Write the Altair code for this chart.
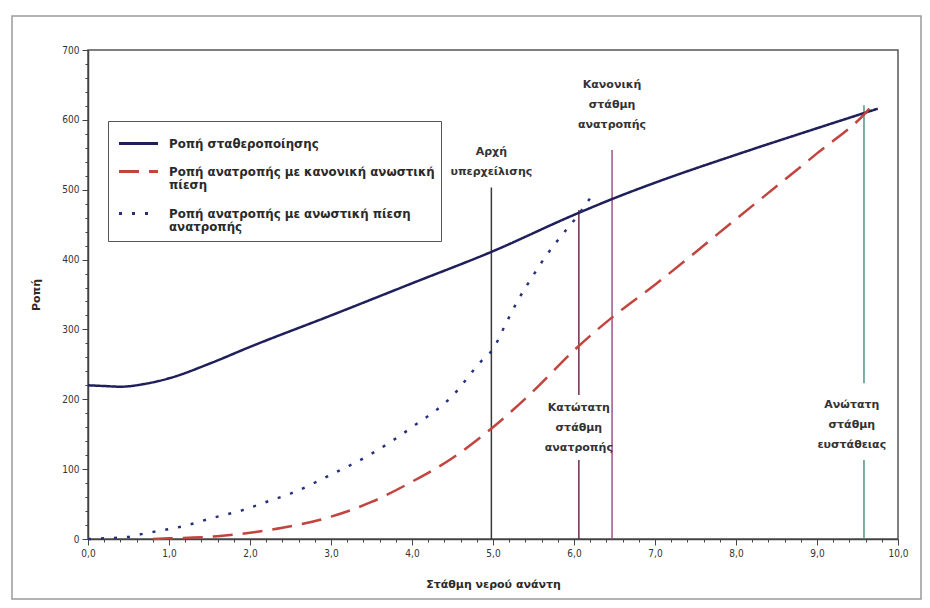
import json
import altair as alt
import pandas as pd

# ---------------- data ----------------
series_names = [
    "Ροπή σταθεροποίησης",
    "Ροπή ανατροπής με κανονική ανωστική πίεση",
    "Ροπή ανατροπής με ανωστική πίεση ανατροπής",
]
legend_lines = [
    ["Ροπή σταθεροποίησης"],
    ["Ροπή ανατροπής με κανονική ανωστική", "πίεση"],
    ["Ροπή ανατροπής με ανωστική πίεση", "ανατροπής"],
]

x_stab = [0.0, 0.2, 0.4, 0.7, 1.0, 1.5, 2.0, 3.0, 4.0, 5.0, 6.0, 6.5, 7.0, 8.0, 9.0, 9.75]
y_stab = [220, 219, 218, 222, 230, 251, 275, 320, 366, 412, 464, 488, 510, 550, 588, 616]

x_norm = [0.8, 1.0, 1.3, 1.6, 2.0, 2.4, 3.0, 3.5, 4.0, 4.5, 5.0, 5.5, 6.0, 6.5, 7.0, 8.0, 9.0, 9.6, 9.72]
y_norm = [0, 1, 2, 4, 9, 16, 32, 53, 82, 116, 160, 212, 270, 320, 364, 458, 552, 610, 626]

x_ovt = [0.0, 0.2, 0.5, 0.7, 0.9, 1.2, 1.5, 1.9, 2.2, 2.5, 3.0, 3.5, 4.0, 4.5, 4.85, 5.0,
         5.17, 5.3, 5.5, 5.6, 5.85, 6.0, 6.2]
y_ovt = [0, 1, 3, 8, 12, 19, 29, 41, 53, 65, 92, 122, 160, 205, 254, 272,
         311, 340, 378, 396, 435, 456, 488]

# vertical reference levels: x, top, (gap low, gap high) where a label covers the line
level_x = [4.98, 6.06, 6.47, 9.58]
level_top = [503, 471, 557, 621]
level_gap = [None, (113, 206), None, (113, 223)]
level_colors = ["#3a3a3a", "#6e2a48", "#a4508c", "#4f9484"]

# annotation labels (data coordinates of the first line's top)
label_x = [4.98, 6.06, 6.47, 9.43]
label_y = [562, 196, 658, 200]
label_text = [
    "Αρχή\nυπερχείλισης",
    "Κατώτατη\nστάθμη\nανατροπής",
    "Κανονική\nστάθμη\nανατροπής",
    "Ανώτατη\nστάθμη\nευστάθειας",
]

x_tick_values = [round(i * 0.2, 1) for i in range(51)]
y_tick_values = list(range(0, 701, 20))

# ---------------- tables ----------------
rows = []
for name, xs, ys in zip(series_names, [x_stab, x_norm, x_ovt], [y_stab, y_norm, y_ovt]):
    for i, (a, b) in enumerate(zip(xs, ys)):
        rows.append({"series": name, "x": a, "y": b, "order": i})
df = pd.DataFrame(rows)

rule_rows = []
for lx, top, gap, col in zip(level_x, level_top, level_gap, level_colors):
    if gap is None:
        rule_rows.append({"x": lx, "y": 0, "y2": top, "c": col})
    else:
        rule_rows.append({"x": lx, "y": 0, "y2": gap[0], "c": col})
        rule_rows.append({"x": lx, "y": gap[1], "y2": top, "c": col})
df_rules = pd.DataFrame(rule_rows)

df_text = pd.DataFrame({"x": label_x, "y": label_y, "t": label_text})

FONT = "DejaVu Sans"
AXFONT = "DejaVu Sans Condensed, DejaVu Sans, sans-serif"

label_map = {n: l for n, l in zip(series_names, legend_lines)}
legend_label_expr = " : ".join(
    [f"datum.label == {json.dumps(n, ensure_ascii=False)} ? {json.dumps(l, ensure_ascii=False)}"
     for n, l in label_map.items()] + ["datum.label"]
)

legend = alt.Legend(
    title=None,
    orient="none",
    legendX=20,
    legendY=71,
    direction="vertical",
    fillColor="white",
    strokeColor="#555555",
    padding=6,
    rowPadding=4,
    symbolType="M -1.3 0 H 1.3",
    symbolSize=900,
    symbolStrokeWidth=3,
    symbolOffset=8,
    labelFont=FONT,
    labelFontSize=11.8,
    labelFontWeight="bold",
    labelColor="#2a2a2a",
    labelLimit=400,
    labelOffset=14,
    labelExpr=legend_label_expr,
)

x_scale = alt.Scale(domain=[0, 10], nice=False, zero=False)
y_scale = alt.Scale(domain=[0, 700], nice=False)

x_major = "abs(datum.value - round(datum.value)) < 0.001"
x_axis = alt.Axis(
    values=x_tick_values,
    tickCount=1000,
    labelExpr=f"{x_major} ? replace(format(datum.value, '.1f'), '.', ',') : ''",
    tickSize={"condition": {"test": x_major, "value": 6}, "value": 3},
    labelFlush=False,
    labelOverlap=False,
    grid=False,
    title="Στάθμη νερού ανάντη",
    titlePadding=20,
    labelPadding=3,
)
y_axis = alt.Axis(
    values=y_tick_values,
    tickCount=1000,
    labelExpr="datum.value % 100 == 0 ? format(datum.value, 'd') : ''",
    tickSize={"condition": {"test": "datum.value % 100 == 0", "value": 6}, "value": 3},
    labelOverlap=False,
    grid=False,
    title="Ροπή",
    titlePadding=20,
    labelPadding=3,
)

lines = alt.Chart(df).mark_line(strokeWidth=2.5, interpolate="monotone", strokeCap="butt").encode(
    x=alt.X("x:Q", scale=x_scale, axis=x_axis),
    y=alt.Y("y:Q", scale=y_scale, axis=y_axis),
    color=alt.Color("series:N", scale=alt.Scale(domain=series_names,
                                                  range=["#1f1f5c", "#c2443f", "#27307a"]),
                    legend=legend),
    strokeDash=alt.StrokeDash("series:N", scale=alt.Scale(domain=series_names,
                                                          range=[[1, 0], [20, 10], [3, 10]]),
                              legend=legend),
    order="order:Q",
)

rules = alt.Chart(df_rules).mark_rule(strokeWidth=1.5).encode(
    x="x:Q", y="y:Q", y2="y2:Q", color=alt.Color("c:N", scale=None)
)

texts = alt.Chart(df_text).mark_text(
    lineBreak="\n", align="center", baseline="top", font=FONT, fontSize=11,
    fontWeight="bold", lineHeight=20, color="#333333"
).encode(x="x:Q", y="y:Q", text="t:N")

frame = alt.Chart(pd.DataFrame({"a": [0]})).mark_rect(
    fillOpacity=0, stroke="#9a9a9a", strokeWidth=1.5
).encode(x=alt.value(-76), x2=alt.value(833), y=alt.value(-34), y2=alt.value(549))

chart = alt.layer(frame, rules, lines, texts).properties(
    width=810,
    height=489,
    autosize=alt.AutoSizeParams(type="none"),
    padding={"left": 80, "top": 42, "right": 24, "bottom": 61},
    background="white",
).configure_view(
    stroke="#555555", strokeWidth=1.5
).configure_axis(
    labelFont=AXFONT, labelFontSize=10, labelColor="#333333",
    titleFont=FONT, titleFontSize=11, titleFontWeight="bold", titleColor="#2a2a2a",
    domainColor="#444444", domainWidth=1.5, tickColor="#444444", tickWidth=1,
)

chart.save("out.html", embed_options={"renderer": "svg", "actions": False})
